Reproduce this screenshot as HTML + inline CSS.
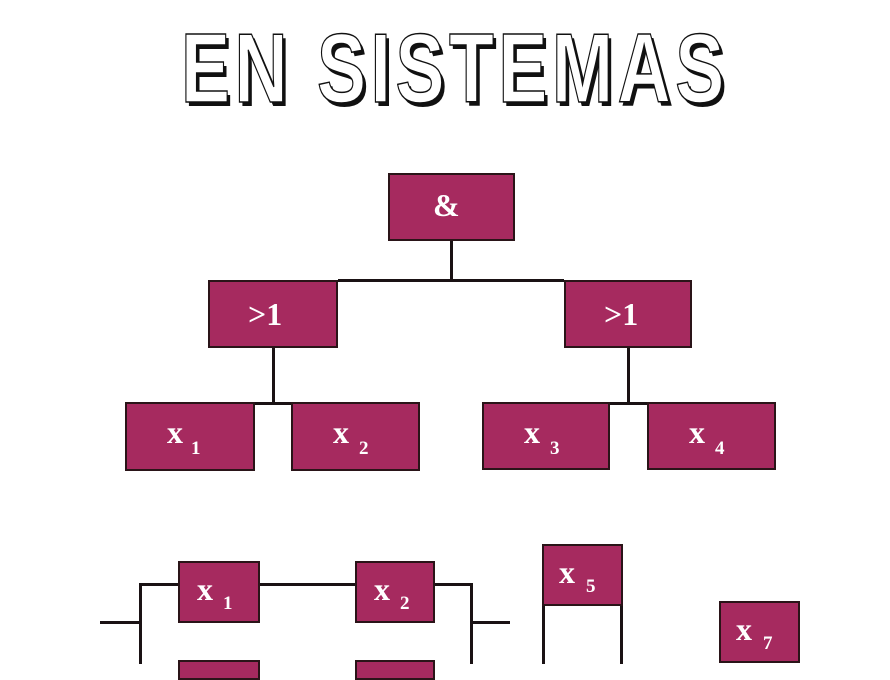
<!DOCTYPE html>
<html><head><meta charset="utf-8"><style>
body{margin:0;width:890px;height:664px;background:#fff;position:relative;overflow:hidden;font-family:"Liberation Serif",serif}
.b{position:absolute;box-sizing:border-box;background:#a62a5f;border:2.5px solid #2a1418;color:#fff;font-weight:bold}
.b span{position:absolute;font-size:32px;line-height:1}
.b sub{position:absolute;font-size:19px}
.l{position:absolute;background:#1a1214}
.t{position:absolute;left:181px;top:12px;font-family:"Liberation Sans",sans-serif;font-weight:bold;font-size:98px;color:#fff;-webkit-text-stroke:1.5px #111;text-shadow:4px 4px 0 #111;transform:scaleX(0.75);transform-origin:left top;white-space:nowrap;letter-spacing:6px}
</style></head><body>
<div class="t">EN SISTEMAS</div>
<div class="l" style="left:450px;top:241px;width:3px;height:40px"></div>
<div class="l" style="left:338px;top:279px;width:226px;height:3px"></div>
<div class="l" style="left:272px;top:348px;width:3px;height:56px"></div>
<div class="l" style="left:255px;top:402px;width:36px;height:3px"></div>
<div class="l" style="left:627px;top:348px;width:3px;height:56px"></div>
<div class="l" style="left:610px;top:402px;width:37px;height:3px"></div>

<div class="b" style="left:388px;top:173px;width:127px;height:68px"><span style="left:43px;top:14px">&amp;</span></div>
<div class="b" style="left:208px;top:280px;width:130px;height:68px"><span style="left:38px;top:16px">&gt;1</span></div>
<div class="b" style="left:564px;top:280px;width:128px;height:68px"><span style="left:38px;top:16px">&gt;1</span></div>
<div class="b" style="left:125px;top:402px;width:130px;height:69px"><span style="left:40px;top:12px">x</span><sub style="left:64px;top:34px">1</sub></div>
<div class="b" style="left:291px;top:402px;width:129px;height:69px"><span style="left:40px;top:12px">x</span><sub style="left:66px;top:34px">2</sub></div>
<div class="b" style="left:482px;top:402px;width:128px;height:68px"><span style="left:40px;top:12px">x</span><sub style="left:66px;top:34px">3</sub></div>
<div class="b" style="left:647px;top:402px;width:129px;height:68px"><span style="left:40px;top:12px">x</span><sub style="left:66px;top:34px">4</sub></div>

<div class="l" style="left:100px;top:621px;width:41px;height:3px"></div>
<div class="l" style="left:139px;top:583px;width:3px;height:81px"></div>
<div class="l" style="left:139px;top:583px;width:40px;height:3px"></div>
<div class="l" style="left:260px;top:583px;width:95px;height:3px"></div>
<div class="l" style="left:435px;top:583px;width:37px;height:3px"></div>
<div class="l" style="left:470px;top:583px;width:3px;height:81px"></div>
<div class="l" style="left:470px;top:621px;width:40px;height:3px"></div>
<div class="l" style="left:542px;top:604px;width:3px;height:60px"></div>
<div class="l" style="left:620px;top:604px;width:3px;height:60px"></div>

<div class="b" style="left:178px;top:561px;width:82px;height:62px"><span style="left:17px;top:10px">x</span><sub style="left:43px;top:30px">1</sub></div>
<div class="b" style="left:355px;top:561px;width:80px;height:62px"><span style="left:17px;top:10px">x</span><sub style="left:43px;top:30px">2</sub></div>
<div class="b" style="left:542px;top:544px;width:81px;height:62px"><span style="left:15px;top:10px">x</span><sub style="left:42px;top:30px">5</sub></div>
<div class="b" style="left:719px;top:601px;width:81px;height:62px"><span style="left:15px;top:10px">x</span><sub style="left:42px;top:30px">7</sub></div>
<div class="b" style="left:178px;top:660px;width:82px;height:20px"></div>
<div class="b" style="left:355px;top:660px;width:80px;height:20px"></div>
</body></html>
